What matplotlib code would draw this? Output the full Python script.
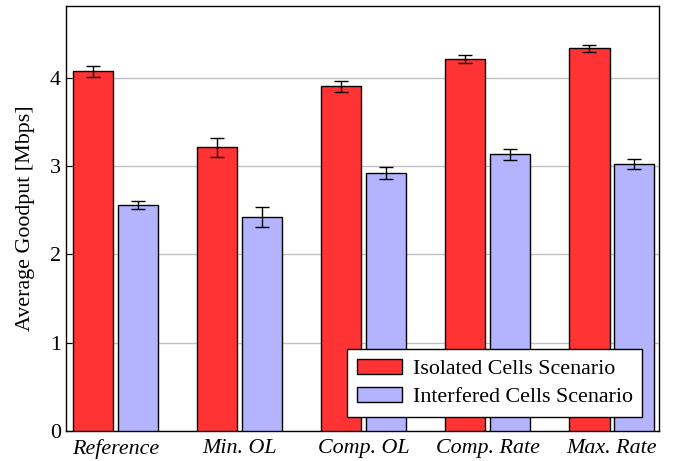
import matplotlib.pyplot as plt
import numpy as np

# Data
categories = ["Reference", "Min. OL", "Comp. OL", "Comp. Rate", "Max. Rate"]
isolated = [4.07, 3.21, 3.90, 4.21, 4.33]
isolated_err = [0.06, 0.11, 0.06, 0.05, 0.04]
interfered = [2.56, 2.42, 2.92, 3.13, 3.02]
interfered_err = [0.045, 0.11, 0.07, 0.06, 0.06]

plt.rcParams['font.family'] = ['Liberation Serif', 'DejaVu Serif']
fs = 15.8

fig = plt.figure(figsize=(6.76, 4.61), dpi=100)
ax = fig.add_axes([0.0976, 0.0651, 0.8774, 0.9219])

x = np.arange(len(categories))
w = 0.3226
off = 0.181
err_kw = dict(ecolor='black', elinewidth=1.0, capsize=5, capthick=1.0)
ax.bar(x - off, isolated, w, yerr=isolated_err, color='#ff3333',
       edgecolor='black', linewidth=1.0, label='Isolated Cells Scenario',
       error_kw=err_kw, zorder=3)
ax.bar(x + off, interfered, w, yerr=interfered_err, color='#b3b3ff',
       edgecolor='black', linewidth=1.0, label='Interfered Cells Scenario',
       error_kw=err_kw, zorder=3)

ax.set_xlim(-0.4, 4.38)
ax.set_ylim(0, 4.81)
ax.set_yticks([0, 1, 2, 3, 4])
ax.set_xticks(x)
ax.set_xticklabels(categories, fontstyle='italic', fontsize=fs)
ax.tick_params(axis='y', direction='in', labelsize=fs, length=4)
ax.tick_params(axis='x', length=0, pad=6)
ax.yaxis.grid(True, color='#c0c0c0', linewidth=1.0, zorder=0)
ax.set_axisbelow(True)
for s in ax.spines.values():
    s.set_linewidth(1.0)
    s.set_color('black')

ax.set_ylabel("Average Goodput [Mbps]", fontsize=fs, labelpad=11)

leg = ax.legend(loc='lower right', bbox_to_anchor=(0.972, 0.033),
                fontsize=fs, fancybox=False, framealpha=1,
                edgecolor='black', handlelength=2.05, handleheight=0.68,
                handletextpad=0.5, borderpad=0.45, labelspacing=0.35,
                borderaxespad=0)
leg.get_frame().set_linewidth(1.0)
leg.set_zorder(5)

fig.savefig("out.png", dpi=100)
